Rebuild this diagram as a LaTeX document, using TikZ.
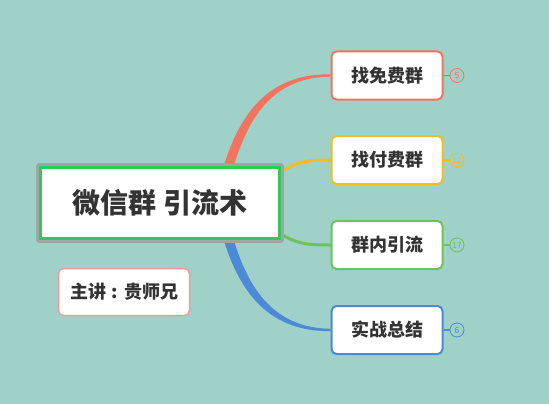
\documentclass[tikz,border=0pt]{standalone}
\usepackage{fontspec}
\setmainfont{Noto Sans CJK SC}
\usetikzlibrary{calc}
\definecolor{bg}{HTML}{9FD1C9}
\definecolor{txt}{HTML}{333333}
\definecolor{cred}{HTML}{F2735F}
\definecolor{cyel}{HTML}{F5BC1E}
\definecolor{cgrn}{HTML}{6DC25B}
\definecolor{cblu}{HTML}{4C8AD8}
\definecolor{cgry}{HTML}{A2A2A2}
\definecolor{cctr}{HTML}{34C759}
\definecolor{cpnk}{HTML}{EC9A9A}
\tikzset{
  branchbox/.style={draw=#1, line width=2pt, fill=white, rounded corners=5pt,
    minimum width=111pt, minimum height=48pt, inner sep=0pt, text=txt,
    font=\fontsize{18}{20}\selectfont\bfseries},
  badge/.style={draw=#1, line width=0.8pt, circle, minimum size=14pt, inner sep=0pt,
    text=#1, font=\fontsize{8.5}{9}\selectfont},
  stub/.style={draw=#1, line width=1.5pt},
  ctrbox/.style={draw=cctr, line width=3pt, fill=white, minimum width=239pt, minimum height=71pt,
    inner sep=0pt, text=txt, font=\fontsize{28}{30}\selectfont\bfseries},
  ctrframe/.style={draw=cgry, line width=2.5pt, rounded corners=2pt, minimum width=245pt,
    minimum height=77pt, inner sep=0pt},
}
\begin{document}
\begin{tikzpicture}[x=1pt,y=-1pt]
\fill[bg] (0,0) rectangle (549,404);
\useasboundingbox (0,0) rectangle (549,404);

% central node
\node[ctrframe] (cout) at (160,203) {};
\node[ctrbox] (c) at (160,203) {微信群 引流术};

% branch boxes
\node[branchbox=cred] (b1) at (387,75.5) {找免费群};
\node[branchbox=cyel] (b2) at (387,160) {找付费群};
\node[branchbox=cgrn] (b3) at (387,245) {群内引流};
\node[branchbox=cblu] (b4) at (387,330) {实战总结};

% speaker
\node[draw=cpnk, line width=1.5pt, fill=white, rounded corners=5pt, minimum width=131pt, minimum height=47pt,
  inner sep=0pt, text=txt, font=\fontsize{18}{20}\selectfont\bfseries] (s) at (124,292)
  {主讲\makebox[18pt]{:}贵师兄};

% connector anchor points
\coordinate (r0) at ($(cout.north west)+(188,1)$);
\coordinate (r1) at ($(cout.north west)+(198,1)$);
\coordinate (bl0) at ($(cout.south west)+(188,-1)$);
\coordinate (bl1) at ($(cout.south west)+(198,-1)$);

% red tapered connector
\fill[cred] (r0) .. controls (242,108) and (273,73.5) .. ($(b1.west)+(0,-1.2)$)
  -- ($(b1.west)+(0,1.2)$) .. controls (276,77) and (250,113) .. (r1) -- cycle;
% blue tapered connector
\fill[cblu] (bl0) .. controls (242,298) and (273,331.5) .. ($(b4.west)+(0,1.2)$)
  -- ($(b4.west)+(0,-1.2)$) .. controls (276,328) and (250,292) .. (bl1) -- cycle;
% yellow and green
\draw[cyel, line width=3pt] ($(cout.north east)+(0,7)$) .. controls (300,160) and (312,160) .. (b2.west);
\draw[cgrn, line width=3pt] ($(cout.south east)+(0,-7)$) .. controls (300,245) and (312,245) .. (b3.west);

% redraw central on top of the connectors
\node[ctrframe] at (cout) {};
\node[ctrbox] at (c) {微信群 引流术};

% badges
\node[badge=cred] (n1) at (457,75.5) {5};
\node[badge=cyel] (n2) at (457,160) {12};
\node[badge=cgrn] (n3) at (457,245) {17};
\node[badge=cblu] (n4) at (457,330) {6};
\draw[stub=cred] (b1.east) -- (n1.west);
\draw[stub=cyel] (b2.east) -- (n2.west);
\draw[stub=cgrn] (b3.east) -- (n3.west);
\draw[stub=cblu] (b4.east) -- (n4.west);
\end{tikzpicture}
\end{document}
